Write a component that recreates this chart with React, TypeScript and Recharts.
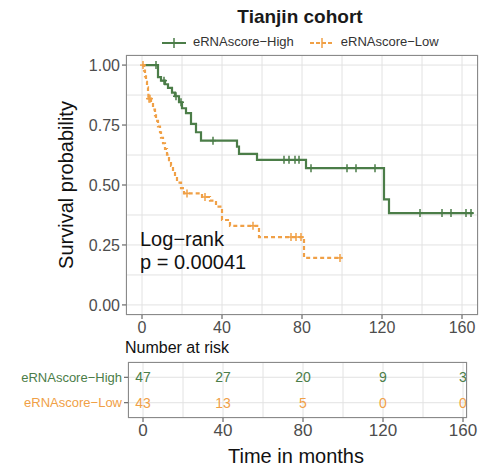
import { ComposedChart, Line, Scatter, XAxis, YAxis, CartesianGrid } from "recharts";

// Tianjin cohort, Kaplan-Meier by eRNAscore group
const highTime = [0, 7, 8, 9.5, 11, 11.5, 13, 15, 16.5, 17, 18.5, 19.5, 20, 22, 24.5, 27, 29.5, 35.5, 47.5, 48.5, 57.5, 71, 73.5, 76.5, 78.5, 82, 84.5, 102.5, 107, 116.5, 121, 123.5, 139, 150, 154.5, 162, 164.5, 165.5];
const highSurv = [1, 1, 0.95, 0.935, 0.935, 0.92, 0.905, 0.885, 0.87, 0.87, 0.845, 0.845, 0.82, 0.8, 0.755, 0.72, 0.685, 0.685, 0.66, 0.63, 0.605, 0.605, 0.605, 0.605, 0.605, 0.57, 0.57, 0.57, 0.57, 0.57, 0.44, 0.383, 0.383, 0.383, 0.383, 0.383, 0.383, 0.383];
const highCens = [0, 1, 0, 0, 1, 0, 0, 0, 0, 1, 0, 1, 0, 0, 0, 0, 0, 1, 0, 0, 0, 1, 1, 1, 1, 0, 1, 1, 1, 1, 0, 0, 1, 1, 1, 1, 1, 0];

const lowTime = [0, 0.5, 1, 1.5, 2, 2.5, 3, 3.2, 3.5, 4, 4.5, 5.5, 6.5, 7, 8, 9, 9.5, 10.5, 11.5, 12.5, 13.5, 14.5, 15.5, 16.5, 17.5, 19.5, 21, 22.5, 30, 31.5, 34, 37, 40, 44, 55.5, 58.5, 74.5, 77, 79.5, 81, 99, 100];
const lowSurv = [1, 1, 0.977, 0.953, 0.93, 0.907, 0.884, 0.86, 0.86, 0.86, 0.837, 0.814, 0.79, 0.767, 0.744, 0.72, 0.697, 0.674, 0.65, 0.627, 0.604, 0.58, 0.557, 0.534, 0.51, 0.487, 0.465, 0.465, 0.45, 0.45, 0.435, 0.41, 0.354, 0.33, 0.33, 0.283, 0.283, 0.283, 0.283, 0.196, 0.196, 0.196];
const lowCens = [0, 1, 0, 0, 0, 0, 0, 0, 1, 1, 0, 0, 0, 0, 0, 0, 0, 0, 0, 0, 0, 0, 0, 0, 0, 0, 0, 1, 0, 1, 0, 0, 0, 0, 1, 0, 1, 1, 1, 0, 1, 0];

const riskTime = [0, 40, 80, 120, 160];
const riskHigh = [47, 27, 20, 9, 3];
const riskLow = [43, 13, 5, 0, 0];

const xTicks = [0, 40, 80, 120, 160];
const yTicks = [0, 0.25, 0.5, 0.75, 1];
const gridX = [0, 20, 40, 60, 80, 100, 120, 140, 160];
const gridY = [0, 0.125, 0.25, 0.375, 0.5, 0.625, 0.75, 0.875, 1];
const rowTicks = [1, 2];

const GREEN = "#4b7d48";
const ORANGE = "#f0a046";
const FONT = "'Liberation Sans', Arial, sans-serif";
const HIGH_LABEL = "eRNAscore\u2212High";
const LOW_LABEL = "eRNAscore\u2212Low";

const highData = highTime.map((t, i) => ({ t, s: highSurv[i], c: highCens[i] }));
const lowData = lowTime.map((t, i) => ({ t, s: lowSurv[i], c: lowCens[i] }));
const riskHighData = riskTime.map((t, i) => ({ t, row: 2, n: riskHigh[i] }));
const riskLowData = riskTime.map((t, i) => ({ t, row: 1, n: riskLow[i] }));

const censorDot = (color: string) => (props: any) => {
  const { cx, cy, payload, index } = props;
  if (!payload || !payload.c) return <g key={"d" + index} />;
  return (
    <g key={"d" + index}>
      <line x1={cx} x2={cx} y1={cy - 4} y2={cy + 4} stroke={color} strokeWidth={1.5} />
      <line x1={cx - 3} x2={cx + 3} y1={cy} y2={cy} stroke={color} strokeWidth={1.5} />
    </g>
  );
};

const riskText = (color: string) => (props: any) => (
  <text
    x={props.cx}
    y={props.cy}
    dy="0.35em"
    textAnchor="middle"
    fill={color}
    fontSize={14}
    fontFamily={FONT}
  >
    {props.payload.n}
  </text>
);

const RowTick = (props: any) => {
  const { x, y, payload } = props;
  const high = payload.value === 2;
  return (
    <text x={x} y={y} dy="0.35em" textAnchor="end" fill={high ? GREEN : ORANGE} fontSize={13} fontFamily={FONT}>
      {high ? HIGH_LABEL : LOW_LABEL}
    </text>
  );
};

const LegendIcon = ({ color, dashed }: { color: string; dashed?: boolean }) => (
  <svg width={24} height={12} style={{ marginRight: 7 }}>
    <line x1={0} x2={24} y1={7} y2={7} stroke={color} strokeWidth={2} strokeDasharray={dashed ? "4 2" : undefined} />
    <line x1={12} x2={12} y1={2} y2={12} stroke={color} strokeWidth={1.5} />
  </svg>
);

const abs = (style: React.CSSProperties): React.CSSProperties => ({
  position: "absolute",
  fontFamily: FONT,
  whiteSpace: "nowrap",
  ...style,
});

export default function App() {
  const tickStyle = { fill: "#4d4d4d", fontSize: 16, fontFamily: FONT };
  return (
    <div style={{ position: "absolute", left: 0, top: 0, width: 485, height: 470, background: "#fff", overflow: "hidden" }}>
      <div style={{ position: "absolute", left: 0, top: 0 }}>
        <ComposedChart width={485} height={345} margin={{ top: 55, right: 7, bottom: 0, left: 0 }}>
          {/* hidden axes only to carry the minor+major grid positions */}
          <XAxis xAxisId="g" type="number" dataKey="t" domain={[-8, 168]} ticks={gridX} allowDataOverflow hide />
          <YAxis yAxisId="g" type="number" domain={[-0.042, 1.042]} ticks={gridY} allowDataOverflow hide />
          <CartesianGrid xAxisId="g" yAxisId="g" stroke="#e2e2e2" strokeWidth={1} />
          <XAxis
            dataKey="t"
            type="number"
            domain={[-8, 168]}
            ticks={xTicks}
            allowDataOverflow
            height={30}
            tick={tickStyle}
            tickSize={4}
            tickMargin={3}
            stroke="#4d4d4d"
            axisLine={false}
          />
          <YAxis
            type="number"
            domain={[-0.042, 1.042]}
            ticks={yTicks}
            allowDataOverflow
            width={126}
            tick={tickStyle}
            tickFormatter={(v: number) => v.toFixed(2)}
            tickSize={4}
            tickMargin={2}
            stroke="#4d4d4d"
            axisLine={false}
          />
          <Line
            data={highData}
            dataKey="s"
            type="stepAfter"
            stroke={GREEN}
            strokeWidth={2.2}
            dot={censorDot(GREEN)}
            activeDot={false}
            isAnimationActive={false}
          />
          <Line
            data={lowData}
            dataKey="s"
            type="stepAfter"
            stroke={ORANGE}
            strokeWidth={2.2}
            strokeDasharray="4 3"
            dot={censorDot(ORANGE)}
            activeDot={false}
            isAnimationActive={false}
          />
        </ComposedChart>
      </div>
      <div style={{ position: "absolute", left: 126, top: 55, width: 350, height: 258, border: "1px solid #8a8a8a", pointerEvents: "none" }} />

      <div style={{ position: "absolute", left: 0, top: 335 }}>
        <ComposedChart width={485} height={120} margin={{ top: 27, right: 18, bottom: 0, left: 0 }}>
          <XAxis xAxisId="g" type="number" dataKey="t" domain={[-7.5, 162]} ticks={gridX} allowDataOverflow hide />
          <YAxis yAxisId="g" type="number" dataKey="row" domain={[0.4, 2.6]} ticks={rowTicks} allowDataOverflow hide />
          <CartesianGrid xAxisId="g" yAxisId="g" stroke="#e2e2e2" strokeWidth={1} />
          <XAxis
            dataKey="t"
            type="number"
            domain={[-7.5, 162]}
            ticks={xTicks}
            allowDataOverflow
            height={37}
            tick={{ fill: "#4d4d4d", fontSize: 17, fontFamily: FONT }}
            tickSize={4}
            tickMargin={2}
            stroke="#4d4d4d"
            axisLine={false}
          />
          <YAxis
            dataKey="row"
            type="number"
            domain={[0.4, 2.6]}
            ticks={rowTicks}
            allowDataOverflow
            width={128}
            tick={<RowTick />}
            tickSize={4}
            tickMargin={2}
            stroke="#4d4d4d"
            axisLine={false}
          />
          <Scatter data={riskHighData} dataKey="row" shape={riskText(GREEN)} isAnimationActive={false} />
          <Scatter data={riskLowData} dataKey="row" shape={riskText(ORANGE)} isAnimationActive={false} />
        </ComposedChart>
      </div>
      <div style={{ position: "absolute", left: 128, top: 362, width: 337, height: 54, border: "1px solid #8a8a8a", pointerEvents: "none" }} />

      <div style={abs({ left: 300, top: 17, transform: "translate(-50%, -50%)", fontSize: 19, fontWeight: "bold", color: "#1a1a1a" })}>
        Tianjin cohort
      </div>
      <div style={abs({ left: 162, top: 34, display: "flex", alignItems: "center", fontSize: 13, color: "#333" })}>
        <LegendIcon color={GREEN} />
        <span style={{ marginRight: 16 }}>{HIGH_LABEL}</span>
        <LegendIcon color={ORANGE} dashed />
        <span>{LOW_LABEL}</span>
      </div>
      <div style={abs({ left: 66, top: 185, transform: "translate(-50%, -50%) rotate(-90deg)", fontSize: 20, color: "#111" })}>
        Survival probability
      </div>
      <div style={abs({ left: 140, top: 228, fontSize: 20, lineHeight: "23px", color: "#111" })}>
        Log{"\u2212"}rank
        <br />p = 0.00041
      </div>
      <div style={abs({ left: 125, top: 339, fontSize: 16, color: "#111" })}>Number at risk</div>
      <div style={abs({ left: 296, top: 456, transform: "translate(-50%, -50%)", fontSize: 20, color: "#111" })}>
        Time in months
      </div>
    </div>
  );
}
